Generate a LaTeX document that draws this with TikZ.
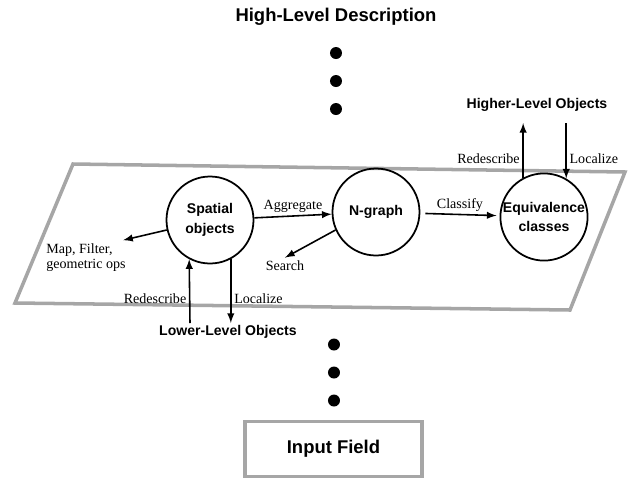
\documentclass[tikz,border=0pt]{standalone}
\usepackage{fontspec}
\setmainfont{Liberation Serif}
\setsansfont{Liberation Sans}
\usetikzlibrary{arrows}
\def\dotsep{0.56}

\begin{document}
\begin{tikzpicture}[>=latex, line width=0.9pt]
      \tikzstyle{stage}=[circle,draw,line width=1pt,minimum size=1.74cm,inner sep=0pt,align=center,
        font=\sffamily\bfseries\fontsize{8}{11}\selectfont]
      \tikzstyle{level}=[font=\sffamily\bfseries\fontsize{8}{9}\selectfont]
      \tikzstyle{big level}=[font=\sffamily\bfseries\fontsize{10.5}{12}\selectfont]
      \tikzstyle{op}=[font=\fontsize{8}{8.5}\selectfont, inner sep=1.5pt]
      \tikzstyle{dot}=[circle,fill=black,minimum size=0.24cm,inner sep=0pt]
      \tikzstyle{hatch}=[draw=black!35, line width=2pt]

      \useasboundingbox (0,0) rectangle (12.6,-9.6);

      % Draw the plane of the current level
      \draw[hatch] (1.46,-3.28) -- (12.5,-3.44) -- (11.4,-6.2) -- (0.3,-6.06) -- cycle;

      % Draw the top of the hierarchy
      \node[big level] (desc) at (6.72,-0.34) {High-Level Description};
      \foreach \name in {1,...,3}
          \node[dot] (T-\name) at (6.72,-0.5-\dotsep*\name) {};

      % Draw the three stages
      \node[stage] (spatial) at (4.2,-4.4) {Spatial\\objects};
      \node[stage] (ngraph) at (7.52,-4.24) {N-graph};
      \node[stage] (equiv) at (10.88,-4.34) {Equivalence\\classes};

      % Draw the side results
      \node[op, align=left] (mapops) at (1.72,-5.15) {Map, Filter,\\geometric ops};
      \node[op] (search) at (5.7,-5.32) {Search};

      % Draw the levels above and below
      \node[level] (higher) at (10.74,-2.1) {Higher-Level Objects};
      \node[level] (lower) at (4.56,-6.64) {Lower-Level Objects};
      \coordinate (lo-top) at (3.8,-6.46);
      \coordinate (hi-top) at (10.46,-2.46);

      % Draw the bottom of the hierarchy
      \foreach \name in {1,...,3}
          \node[dot] (B-\name) at (6.68,-6.33-\dotsep*\name) {};
      \node[big level, hatch, minimum width=3.54cm, minimum height=1.1cm] (input) at (6.67,-8.98) {Input Field};

      % Connect the stages
      \draw[->] (spatial) -- node[op, above] (aggr) {Aggregate} (ngraph);
      \draw[->, shorten <=0.1cm, shorten >=0.06cm] (ngraph) -- node[op, above] (clsf) {Classify} (equiv);
      \draw[->] (spatial.193) -- (mapops.25);
      \draw[->] (ngraph.204) -- (search.north);

      % Connect the stages with the levels
      \draw[->] (lo-top) -- node[op, left, pos=0.38] (redesc-lo) {Redescribe} (spatial.242);
      \draw[->] (spatial.298) -- node[op, right, pos=0.62] (loc-lo) {Localize} (spatial.298 |- lo-top);
      \draw[->] (equiv.118) -- node[op, left, pos=0.35] (redesc-hi) {Redescribe} (equiv.118 |- hi-top);
      \draw[->] (equiv.60 |- hi-top) -- node[op, right, pos=0.64] (loc-hi) {Localize} (equiv.60);
  \end{tikzpicture}
\end{document}
